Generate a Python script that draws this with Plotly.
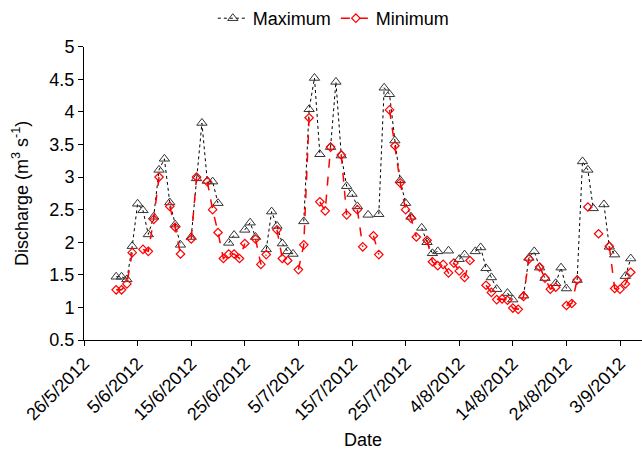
import pandas as pd
import plotly.graph_objects as go

start_date = "2012-05-26"
day_offsets = list(range(6, 103))

maximum = [1.47, 1.47, 1.43, 1.94, 2.59, 2.49, 2.12, 2.39, 3.11, 3.28,
           2.61, 2.27, 1.96, None, 2.08, 2.98, 3.83, 2.94, 2.93, 2.60,
           None, 1.99, 2.11, None, 2.19, 2.30, 2.08, None, 1.89, 2.47,
           2.25, 1.98, 1.86, 1.82, None, 2.32, 4.04, 4.52, 3.35, None,
           3.46, 4.46, 3.33, 2.86, 2.74, 2.55, None, 2.42, None, 2.43,
           4.37, 4.27, 3.56, 2.95, 2.60, 2.39, None, 2.22, 2.00, 1.83,
           1.86, None, 1.87, None, 1.74, 1.81, None, 1.86, 1.92, 1.60,
           1.46, 1.28, None, 1.22, 1.12, None, 1.18, 1.76, 1.86, 1.61,
           1.45, None, 1.37, 1.61, 1.29, None, 1.42, 3.24, 3.11, 2.52,
           None, 2.58, 1.93, 1.81, None, 1.48, 1.75]

minimum = [1.27, 1.27, 1.36, 1.84, None, 1.89, 1.86, 2.35, 3.00, None,
           2.55, 2.23, 1.82, None, 2.05, 3.00, None, 2.93, 2.50, 2.15,
           1.75, 1.82, 1.82, 1.75, 1.98, None, 2.05, 1.66, 1.81, None,
           2.19, 1.75, 1.72, None, 1.58, 1.96, 3.91, None, 2.62, 2.48,
           3.46, None, 3.34, 2.42, None, 2.50, 1.93, None, 2.10, 1.81,
           None, 4.03, 3.48, 2.91, 2.50, 2.37, 2.08, None, 2.03, 1.70,
           1.64, 1.66, 1.53, 1.68, 1.56, 1.46, 1.72, None, None, 1.34,
           1.23, 1.12, 1.13, 1.11, 0.99, 0.97, 1.17, 1.74, None, 1.62,
           1.45, 1.28, 1.31, None, 1.03, 1.06, 1.42, None, 2.54, None,
           2.13, None, 1.94, 1.29, 1.28, 1.36, 1.54]

y_ticks = [0.5, 1, 1.5, 2, 2.5, 3, 3.5, 4, 4.5, 5]

t0 = pd.Timestamp(start_date)
dates = [t0 + pd.Timedelta(days=d) for d in day_offsets]

font_family = "Liberation Sans, Arial, sans-serif"

fig = go.Figure()
fig.add_trace(go.Scatter(
    x=dates, y=maximum, name="Maximum", mode="lines+markers",
    line=dict(color="#000000", width=1, dash="dot"),
    marker=dict(symbol="triangle-up-open", size=9, color="#333333",
                line=dict(width=1, color="#333333")),
    connectgaps=False,
))
fig.add_trace(go.Scatter(
    x=dates, y=minimum, name="Minimum", mode="lines+markers",
    line=dict(color="#ff0000", width=1.5, dash="dash"),
    marker=dict(symbol="diamond-open", size=6.5, color="#ff0000",
                line=dict(width=1.2, color="#ff0000")),
    connectgaps=False,
))

x_end = t0 + pd.Timedelta(hours=24 * 104.1)

fig.update_layout(
    width=642, height=450,
    margin=dict(l=84, r=0, t=26, b=110),
    paper_bgcolor="white", plot_bgcolor="white",
    font=dict(family=font_family, size=18, color="#000000"),
    showlegend=True,
    legend=dict(orientation="h", xref="container", yref="container",
                x=0.52, xanchor="center", y=1.0, yanchor="top",
                font=dict(size=18), itemsizing="trace",
                bgcolor="rgba(0,0,0,0)", tracegroupgap=0),
    xaxis=dict(
        type="date", range=[t0, x_end],
        tick0=t0, dtick=10 * 86400000, tickformat="%-d/%-m/%Y",
        tickangle=-45, ticks="outside", ticklen=5, tickcolor="#000",
        showline=True, linecolor="#000", linewidth=1,
        showgrid=False, zeroline=False,
        tickfont=dict(size=18),
        title=dict(text="Date", font=dict(size=18), standoff=12),
    ),
    yaxis=dict(
        range=[0.5, 5], tickvals=y_ticks,
        ticktext=[("%g" % v) for v in y_ticks],
        ticks="outside", ticklen=5, tickcolor="#000",
        showline=True, linecolor="#000", linewidth=1,
        showgrid=False, zeroline=False,
        tickfont=dict(size=18),
        title=dict(text="Discharge (m<sup>3</sup> s<sup>-1</sup>)",
                   font=dict(size=18), standoff=16),
    ),
)

fig.write_html("out.html")
